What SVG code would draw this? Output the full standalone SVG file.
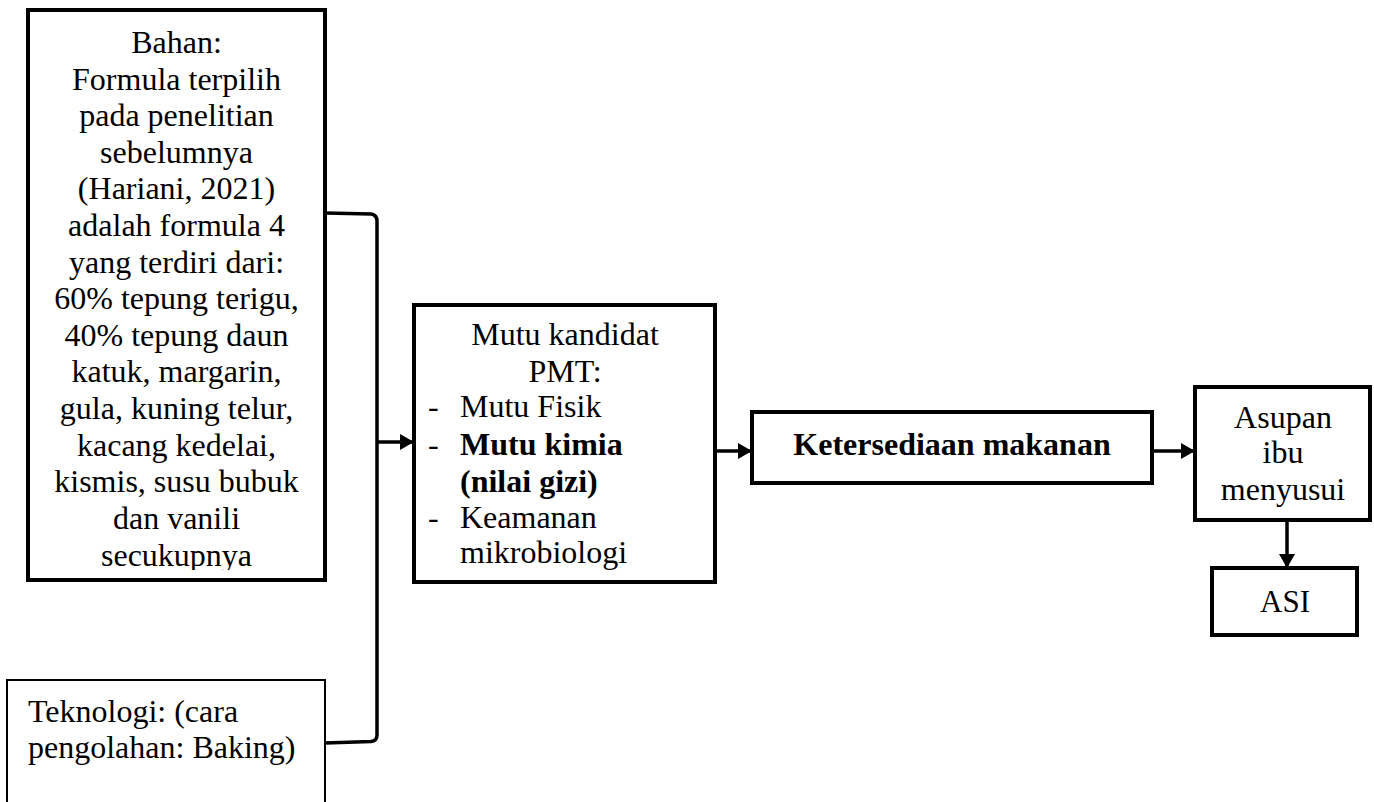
<svg xmlns="http://www.w3.org/2000/svg" width="1374" height="802" viewBox="0 0 1374 802">
<style>
.box{fill:#fff;stroke:#000;stroke-width:4}
.thin{fill:#fff;stroke:#000;stroke-width:2}
.t{font-family:"Liberation Serif","Times New Roman",serif;font-size:32px;fill:#000}
.c{text-anchor:middle}
.b{font-weight:bold}
.ln{fill:none;stroke:#000;stroke-width:3.5}
</style>
<defs>
<marker id="ah" markerUnits="userSpaceOnUse" markerWidth="14" markerHeight="16" refX="13" refY="8" orient="auto">
<path d="M0,0 L14,8 L0,16 Z" fill="#000"/>
</marker>
<clipPath id="clipBahan"><rect x="28" y="10" width="297" height="560"/></clipPath>
</defs>
<g id="bahan">
<rect class="box" x="28" y="10" width="297" height="570"/>
<g clip-path="url(#clipBahan)">
<text class="t c" x="176.5" y="53">Bahan:</text>
<text class="t c" x="176.5" y="89.6">Formula terpilih</text>
<text class="t c" x="176.5" y="126.2">pada penelitian</text>
<text class="t c" x="176.5" y="162.8">sebelumnya</text>
<text class="t c" x="176.5" y="199.4">(Hariani, 2021)</text>
<text class="t c" x="176.5" y="236">adalah formula 4</text>
<text class="t c" x="176.5" y="272.6">yang terdiri dari:</text>
<text class="t c" x="176.5" y="309.2">60% tepung terigu,</text>
<text class="t c" x="176.5" y="345.8">40% tepung daun</text>
<text class="t c" x="176.5" y="382.4">katuk, margarin,</text>
<text class="t c" x="176.5" y="419">gula, kuning telur,</text>
<text class="t c" x="176.5" y="455.6">kacang kedelai,</text>
<text class="t c" x="176.5" y="492.2">kismis, susu bubuk</text>
<text class="t c" x="176.5" y="528.8">dan vanili</text>
<text class="t c" x="176.5" y="566">secukupnya</text>
</g>
</g>
<g id="teknologi">
<rect class="thin" x="7" y="680" width="318" height="140"/>
<text class="t" x="28" y="722">Teknologi: (cara</text>
<text class="t" x="28" y="758">pengolahan: Baking)</text>
</g>
<g id="mutu">
<rect class="box" x="414" y="305" width="301" height="277"/>
<text class="t c" x="565" y="345">Mutu kandidat</text>
<text class="t c" x="565" y="382">PMT:</text>
<text class="t" x="428" y="417">-</text>
<text class="t" x="460" y="417">Mutu Fisik</text>
<text class="t" x="428" y="455">-</text>
<text class="t b" x="460" y="455">Mutu kimia</text>
<text class="t b" x="460" y="492">(nilai gizi)</text>
<text class="t" x="428" y="528">-</text>
<text class="t" x="460" y="528">Keamanan</text>
<text class="t" x="460" y="563">mikrobiologi</text>
</g>
<g id="ketersediaan">
<rect class="box" x="752" y="412" width="400" height="71"/>
<text class="t c b" x="952" y="455">Ketersediaan makanan</text>
</g>
<g id="asupan">
<rect class="box" x="1195" y="387" width="175" height="133"/>
<text class="t c" x="1283" y="428">Asupan</text>
<text class="t c" x="1283" y="463">ibu</text>
<text class="t c" x="1283" y="500">menyusui</text>
</g>
<g id="asi">
<rect class="box" x="1212" y="568" width="145" height="67"/>
<text class="t c" x="1285" y="612" style="font-size:31px">ASI</text>
</g>
<g id="connectors">
<path class="ln" d="M325,213 L371,214 Q377,215 377,221 L377,735 Q377,741 371,741.5 L325,743"/>
<line class="ln" x1="377" y1="442" x2="413" y2="442" marker-end="url(#ah)"/>
<line class="ln" x1="715" y1="451" x2="751" y2="451" marker-end="url(#ah)"/>
<line class="ln" x1="1152" y1="451" x2="1194" y2="451" marker-end="url(#ah)"/>
<line class="ln" x1="1287" y1="520" x2="1287" y2="567" marker-end="url(#ah)"/>
</g>
</svg>
